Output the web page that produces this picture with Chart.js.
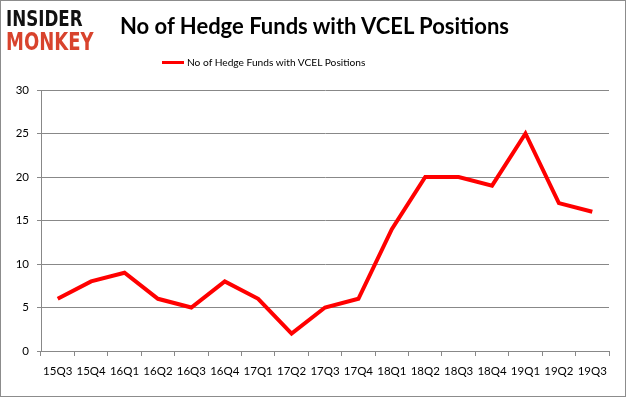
<!DOCTYPE html>
<html>
<head>
<meta charset="utf-8">
<script src="https://cdn.jsdelivr.net/npm/chart.js@4/dist/chart.umd.min.js"></script>
<style>
  body { margin: 0; background: #fff; }
  #wrap { position: relative; width: 626px; height: 397px; }
  #frame { position: absolute; left: 0; top: 0; width: 624px; height: 395px; border: 1px solid #8c8c8c; pointer-events: none; }
  #chart { position: absolute; left: 0; top: 0; }
  .logo { position: absolute; font-family: "DejaVu Sans", sans-serif; font-weight: bold; line-height: 1; transform-origin: 0 0; white-space: nowrap; }
  #logo1 { left: 6px; top: 8px; font-size: 22px; color: #111; transform: scaleX(0.76); }
  #logo2 { left: 6px; top: 29px; font-size: 25px; color: #d8432d; transform: scaleX(0.72); }
  #title { position: absolute; left: 120px; top: 12px; font-family: Lato, "Open Sans", sans-serif; font-weight: bold; font-size: 22px; color: #000; white-space: nowrap; }
  #legend { position: absolute; left: 162px; top: 56px; font-family: Lato, sans-serif; font-size: 10.2px; color: #000; white-space: nowrap; }
  #legend span.sw { display: inline-block; width: 22px; height: 3px; background: #ff0000; vertical-align: middle; margin-right: 3px; position: relative; top: -1px; }
</style>
</head>
<body>
<div id="wrap">
  <canvas id="chart" width="626" height="397"></canvas>
  <div class="logo" id="logo1">INSIDER</div>
  <div class="logo" id="logo2">MONKEY</div>
  <div id="title">No of Hedge Funds with VCEL Positions</div>
  <div id="legend"><span class="sw"></span>No of Hedge Funds with VCEL Positions</div>
  <div id="frame"></div>
</div>
<script>
var quarters = ["15Q3", "15Q4", "16Q1", "16Q2", "16Q3", "16Q4", "17Q1", "17Q2", "17Q3",
                "17Q4", "18Q1", "18Q2", "18Q3", "18Q4", "19Q1", "19Q2", "19Q3"];
var hedgeFunds = [6, 8, 9, 6, 5, 8, 6, 2, 5, 6, 14, 20, 20, 19, 25, 17, 16];
var seriesLabel = "No of Hedge Funds with VCEL Positions";
var yTicks = [0, 5, 10, 15, 20, 25, 30];

var tickFont = { family: "Lato, 'Open Sans', sans-serif", size: 11.5 };

var ctx = document.getElementById("chart").getContext("2d");
var myChart = new Chart(ctx, {
    type: "line",
    data: {
        labels: quarters,
        datasets: [
            {
                label: seriesLabel,
                data: hedgeFunds,
                borderColor: "#ff0000",
                backgroundColor: "#ff0000",
                borderWidth: 4,
                pointRadius: 0,
                tension: 0,
                fill: false
            }
        ]
    },
    options: {
        responsive: false,
        animation: false,
        layout: {
            padding: { top: 90, right: 17, left: 0, bottom: 0 }
        },
        plugins: {
            legend: { display: false },
            title: { display: false },
            tooltip: { enabled: false }
        },
        scales: {
            x: {
                offset: true,
                grid: {
                    offset: true,
                    drawOnChartArea: false,
                    color: "#888",
                    tickLength: 5
                },
                border: { color: "#888" },
                ticks: {
                    color: "#000",
                    font: tickFont,
                    maxRotation: 0,
                    autoSkip: false,
                    padding: 8
                },
                afterFit: function (scale) { scale.height = 46; }
            },
            y: {
                min: 0,
                max: 30,
                afterBuildTicks: function (scale) {
                    scale.ticks = yTicks.map(function (v) { return { value: v }; });
                },
                grid: {
                    color: "#888",
                    tickLength: 4
                },
                border: { color: "#888" },
                ticks: {
                    color: "#000",
                    font: tickFont,
                    padding: 8
                },
                afterFit: function (scale) { scale.width = 41; }
            }
        }
    }
});
</script>
</body>
</html>
